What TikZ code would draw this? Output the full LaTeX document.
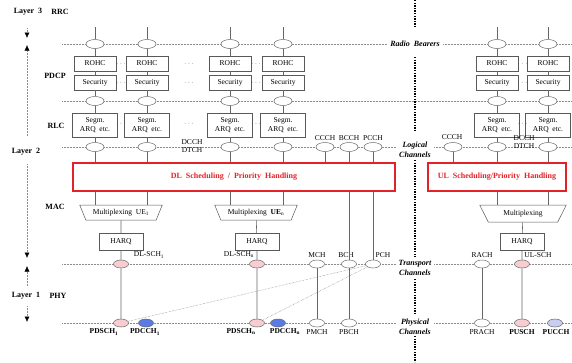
\documentclass[tikz,border=0pt]{standalone}
\usepackage{fontspec}
\setmainfont{Liberation Serif}
\usetikzlibrary{arrows.meta,calc,shapes.geometric}
\definecolor{schpink}{HTML}{F7CDD1}
\definecolor{pdcchblue}{HTML}{5A7BE3}
\definecolor{pucchblue}{HTML}{CACDF1}
\definecolor{schedred}{HTML}{E32228}
% one radio bearer column: PDCP and RLC entities
\newcommand{\bearerstack}[2]{%
  \coordinate (#1top) at (#2,27);
  \node[bearer] (#1rb) at (#2,44) {};
  \node[blk] (#1rohc) at (#2,63.5) {ROHC};
  \node[blk] (#1sec) at (#2,82.5) {Security};
  \node[bearer] (#1pd) at (#2,101) {};
  \node[blk,minimum width=45pt,minimum height=24pt] (#1seg) at (#2,125) {Segm.\\ARQ~~etc.};
  \node[bearer] (#1lc) at (#2,147) {};
  \draw[link] (#1top) -- (#1rb) -- (#1rohc) -- (#1sec) -- (#1pd) -- (#1seg) -- (#1lc);
}
\newcommand{\gapdots}[2]{%
  \node[gapdot] (#1a) at (#2,63.5) {$\cdots$};
  \node[gapdot] (#1b) at (#2,82.5) {$\cdots$};
  \node[gapdot] (#1c) at (#2,124) {$\cdots$};
}

\begin{document}
\begin{tikzpicture}[x=1pt,y=-1pt,
    font=\fontsize{7.5}{8.5}\selectfont,
    blk/.style={rectangle,draw=black!65,fill=white,line width=0.5pt,
        minimum width=42pt,minimum height=15pt,inner sep=1pt,align=center},
    bearer/.style={ellipse,draw=black!60,fill=white,line width=0.5pt,
        minimum width=18pt,minimum height=9pt,inner sep=0pt},
    chan/.style={bearer,minimum width=15pt,minimum height=8pt},
    sched/.style={rectangle,draw=schedred,line width=1.3pt,fill=white,
        text=schedred,font=\fontsize{8}{9}\selectfont\bfseries},
    mux/.style={trapezium,shape border rotate=180,trapezium angle=60,
        trapezium stretches=true,draw=black!65,fill=white,line width=0.5pt,
        minimum width=83pt,minimum height=15pt,inner sep=1pt},
    link/.style={draw=black!60,line width=0.6pt},
    level/.style={draw=black!45,densely dotted,line width=0.5pt},
    divider/.style={draw=black,line width=1.6pt,dash pattern=on 1.4pt off 1.2pt},
    layerarrow/.style={draw=black!45,densely dotted,line width=0.5pt,
        -{Latex[length=5.5pt,width=5pt,color=black]}},
    mapline/.style={draw=black!55,densely dotted,line width=0.45pt},
    chlabel/.style={font=\fontsize{8}{10}\selectfont\bfseries\itshape,
        align=center,fill=white,inner xsep=3pt,inner ysep=1pt},
    lyr/.style={font=\fontsize{8}{9}\selectfont\bfseries},
    gapdot/.style={text=black!75,font=\fontsize{7}{7}\selectfont,inner sep=0pt},
    phylbl/.style={font=\fontsize{7.5}{8.5}\selectfont\bfseries}
]
\useasboundingbox (0,0) rectangle (572,362);

% channel levels and the DL/UL divider
\draw[level] (62,44) -- (572,44);
\draw[level] (62,101) -- (572,101);
\draw[level] (62,147) -- (572,147);
\draw[level] (62,264) -- (572,264);
\draw[level] (62,323) -- (572,323);
\draw[divider] (415,0) -- (415,28) (415,57) -- (415,131)
    (415,160) -- (415,257) (415,279) -- (415,314) (415,336) -- (415,362);
\node[chlabel] (rbear) at (415,44) {Radio~~Bearers};
\node[chlabel] (logch) at (415,150) {Logical\\Channels};
\node[chlabel] (trnch) at (415,268) {Transport\\Channels};
\node[chlabel] (phych) at (415,327) {Physical\\Channels};

% radio bearers down to logical channels
\bearerstack{c1}{95}
\bearerstack{c2}{147}
\bearerstack{c3}{230}
\bearerstack{c4}{283}
\bearerstack{r1}{497}
\bearerstack{r2}{548}
\gapdots{g1}{121}
\gapdots{g2}{189}
\gapdots{g3}{256}
\gapdots{g4}{522.5}

\node[bearer] (ccch) at (325,147) {};
\node[bearer] (bcch) at (349,147) {};
\node[bearer] (pcch) at (373,147) {};
\node[bearer] (rccch) at (453,147) {};
\node (ccchl) at (325,138) {CCCH};
\node (bcchl) at (349,138) {BCCH};
\node (pcchl) at (373,138) {PCCH};
\node (rccchl) at (452,137) {CCCH};
\node[align=center,font=\fontsize{7.5}{8}\selectfont] (dtchl) at (192,146) {DCCH\\DTCH};
\node[align=center,font=\fontsize{7.5}{8}\selectfont] (rdtchl) at (524,142) {DCCH\\DTCH};

% MAC
\node[sched,minimum width=322pt,minimum height=28pt] (dl) at (234,177)
    {DL~~Scheduling~~/~~Priority~~Handling};
\node[sched,minimum width=138pt,minimum height=28pt] (ul) at (497,177)
    {UL~~Scheduling/Priority~~Handling};
\foreach \c in {c1lc,c2lc,c3lc,c4lc,ccch,bcch,pcch}
    \draw[link] (\c) -- (\c |- dl.north);
\foreach \c in {r1lc,r2lc,rccch}
    \draw[link] (\c) -- (\c |- ul.north);

\node[mux] (mux1) at (121,212.5) {Multiplexing~~UE\textsubscript{1}};
\node[mux] (muxn) at (256,212.5) {Multiplexing~~\textbf{UE}\textsubscript{n}};
\node[mux,minimum width=87pt,minimum height=17pt] (muxu) at (523,213.5) {Multiplexing};
\draw[link] (c1lc |- dl.south) -- (c1lc |- mux1.north);
\draw[link] (c2lc |- dl.south) -- (c2lc |- mux1.north);
\draw[link] (c3lc |- dl.south) -- (c3lc |- muxn.north);
\draw[link] (c4lc |- dl.south) -- (c4lc |- muxn.north);
\draw[link] (r1lc |- ul.south) -- (r1lc |- muxu.north);
\draw[link] (r2lc |- ul.south) -- (r2lc |- muxu.north);

\node[blk,minimum width=44pt,minimum height=17pt] (harq1) at (121,241.5) {HARQ};
\node[blk,minimum width=44pt,minimum height=17pt] (harqn) at (257,241.5) {HARQ};
\node[blk,minimum width=44pt,minimum height=17pt] (harqu) at (522,241.5) {HARQ};

% transport channels
\node[chan,fill=schpink] (dlsch1) at (121,264) {};
\node[chan,fill=schpink] (dlschn) at (257,264) {};
\node[chan] (mch) at (317,264) {};
\node[chan] (bch) at (349,264) {};
\node[chan] (pch) at (373,264) {};
\node[chan] (rach) at (482,264) {};
\node[chan,fill=schpink] (ulsch) at (522,264) {};
\node (dlsch1l) at (149,255) {DL-SCH\textsubscript{1}};
\node (dlschnl) at (239,255) {DL-SCH\textsubscript{n}};
\node (mchl) at (317,255) {MCH};
\node (bchl) at (346,255) {BCH};
\node (pchl) at (383,255) {PCH};
\node (rachl) at (482,255) {RACH};
\node (ulschl) at (538,255) {UL-SCH};
\draw[link] (bcch |- dl.south) -- (bch);
\draw[link] (pcch |- dl.south) -- (pch);

% physical channels
\node[chan,fill=schpink] (pdsch1) at (121,323) {};
\node[chan,fill=pdcchblue] (pdcch1) at (146,323) {};
\node[chan,fill=schpink] (pdschn) at (257,323) {};
\node[chan,fill=pdcchblue] (pdcchn) at (278,323) {};
\node[chan] (pmch) at (317,323) {};
\node[chan] (pbch) at (349,323) {};
\node[chan] (prach) at (482,323) {};
\node[chan,fill=schpink] (pusch) at (522,323) {};
\node[chan,fill=pucchblue] (pucch) at (555,323) {};
\node[phylbl] (pdsch1l) at (104,332) {PDSCH\textsubscript{1}};
\node[phylbl] (pdcch1l) at (145,332) {PDCCH\textsubscript{1}};
\node[phylbl] (pdschnl) at (241,332) {PDSCH\textsubscript{n}};
\node[phylbl] (pdcchnl) at (285,332) {PDCCH\textsubscript{n}};
\node (pmchl) at (317,332) {PMCH};
\node (pbchl) at (349,332) {PBCH};
\node (prachl) at (482,332) {PRACH};
\node[phylbl] (puschl) at (522,332) {PUSCH};
\node[phylbl] (pucchl) at (556,332) {PUCCH};

\draw[link] (mux1) -- (harq1) -- (dlsch1) -- (pdsch1);
\draw[link] (muxn) -- (harqn) -- (dlschn) -- (pdschn);
\draw[link] (muxu) -- (harqu) -- (ulsch) -- (pusch);
\draw[link] (mch) -- (pmch);
\draw[link] (bch) -- (pbch);
\draw[link] (rach) -- (prach);
\draw[mapline] (pch) -- (pdsch1);
\draw[mapline] (pch) -- (pdschn);

% layers
\node[lyr] (lay3) at (28,12) {Layer~~3};
\node[lyr] (rrc) at (60,12) {RRC};
\node[lyr] (pdcp) at (55,76) {PDCP};
\node[lyr] (rlc) at (56,126) {RLC};
\node[lyr] (lay2) at (26,152) {Layer~~2};
\node[lyr] (mac) at (55,207) {MAC};
\node[lyr] (lay1) at (26,296) {Layer~~1};
\node[lyr] (phy) at (58,296) {PHY};
\coordinate (tip3) at (27,38);
\coordinate (tip2u) at (27,45);
\coordinate (tip2d) at (27,258);
\coordinate (tip1u) at (27,266);
\coordinate (tip1d) at (27,322);
\draw[layerarrow,shorten <=9pt] (tip3 |- lay3.south) -- (tip3);
\draw[layerarrow,shorten <=9pt] (tip2u |- lay2.north) -- (tip2u);
\draw[layerarrow,shorten <=5pt] (tip2d |- lay2.south) -- (tip2d);
\draw[layerarrow,shorten <=3pt] (tip1u |- lay1.north) -- (tip1u);
\draw[layerarrow,shorten <=3pt] (tip1d |- lay1.south) -- (tip1d);
\end{tikzpicture}
\end{document}
